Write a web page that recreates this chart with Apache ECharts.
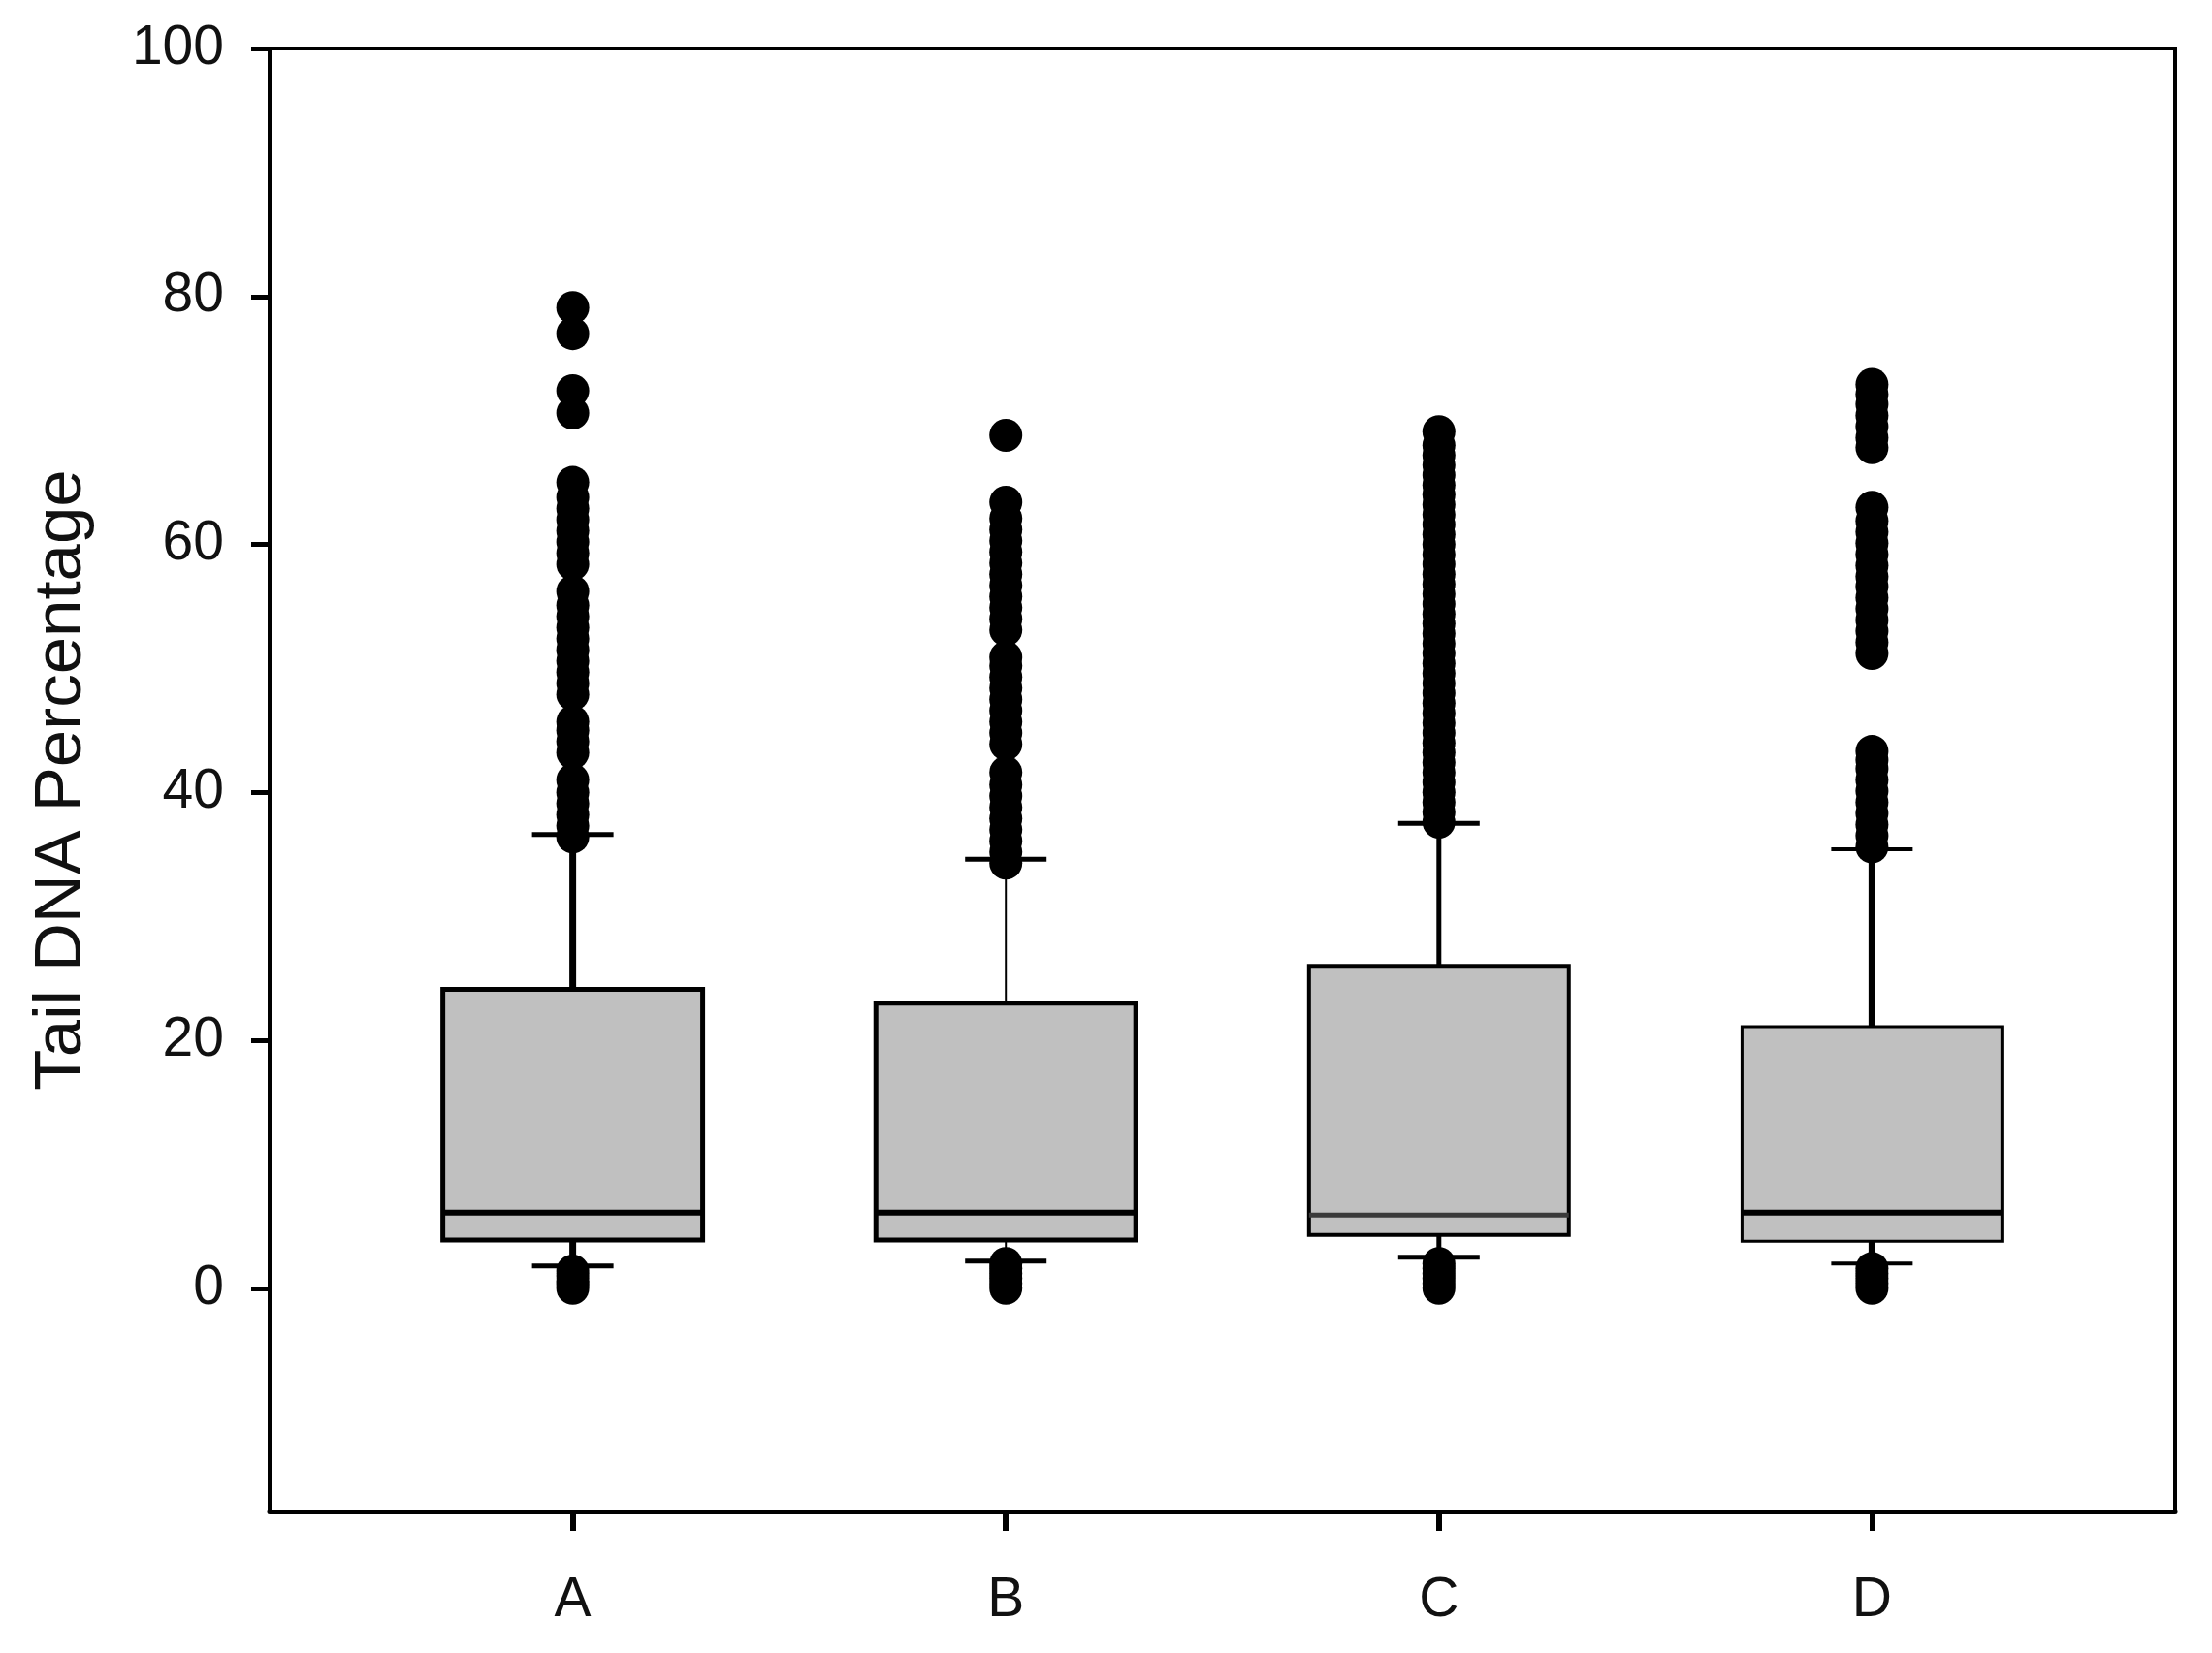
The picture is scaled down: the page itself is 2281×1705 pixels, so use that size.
<!DOCTYPE html>
<html>
<head>
<meta charset="utf-8">
<title>Tail DNA Percentage</title>
<script src="https://cdn.jsdelivr.net/npm/echarts@6/dist/echarts.min.js"></script>
<style>
  html, body { margin: 0; padding: 0; background: #fff; }
  #chart { width: 2281px; height: 1705px; }
</style>
</head>
<body>
<div id="chart"></div>
<script>
// groups on the x axis (placed at 1..4)
const categories = ["A", "B", "C", "D"];

// box plot statistics
const q1Values = [3.9, 3.9, 4.3, 3.8];
const medianValues = [6.1, 6.1, 5.9, 6.1];
const q3Values = [24.1, 23.0, 26.0, 21.1];
const whiskerLow = [1.8, 2.2, 2.5, 2.0];
const whiskerHigh = [36.6, 34.6, 37.5, 35.4];

// outliers above the upper whisker
const outliersHighA = [
  36.4, 37.3, 38.2, 39.1, 40.0, 41.0, 43.2, 44.1, 45.0, 45.7, 47.9, 48.8,
  49.7, 50.6, 51.5, 52.4, 53.3, 54.2, 55.1, 56.2, 58.4, 59.3, 60.2, 61.1,
  62.0, 62.9, 63.8, 65.0, 70.6, 72.4, 77.0, 79.1
];
const outliersHighB = [
  34.3, 35.2, 36.1, 37.0, 37.9, 38.8, 39.7, 40.6, 41.6, 43.9, 44.8, 45.7,
  46.6, 47.5, 48.4, 49.3, 50.2, 50.9, 53.1, 54.0, 54.9, 55.8, 56.7, 57.6,
  58.5, 59.4, 60.3, 61.2, 62.1, 63.4, 68.8
];
const outliersHighC = [
  37.6, 38.4, 39.2, 40.0, 40.8, 41.6, 42.4, 43.2, 44.0, 44.8, 45.6, 46.4,
  47.2, 48.0, 48.8, 49.6, 50.4, 51.2, 52.0, 52.8, 53.6, 54.4, 55.2, 56.0,
  56.8, 57.6, 58.4, 59.2, 60.0, 60.8, 61.6, 62.4, 63.2, 64.0, 64.8, 65.6,
  66.4, 67.2, 68.0, 69.1
];
const outliersHighD = [
  35.6, 36.5, 37.4, 38.3, 39.2, 40.1, 41.0, 41.9, 42.6, 43.3,
  51.2, 52.1, 53.0, 53.9, 54.8, 55.7, 56.6, 57.4, 58.3, 59.2, 60.1, 61.0,
  61.9, 63.0,
  67.8, 68.6, 69.5, 70.4, 71.3, 72.1, 72.9
];

// outliers below the lower whisker
const outliersLowA = [0.0, 0.3, 0.6, 1.0, 1.4];
const outliersLowB = [0.0, 0.4, 0.8, 1.2, 1.6, 2.0];
const outliersLowC = [0.0, 0.4, 0.8, 1.2, 1.6, 2.0];
const outliersLowD = [0.0, 0.4, 0.8, 1.2, 1.6];

// y ticks
const yTicks = [0, 20, 40, 60, 80, 100];

// per-box line widths (the original uses slightly different pens per box)
const boxStyles = [
  { border: 5, whisker: 7, cap: 5, median: 6, medianColor: "#000" },
  { border: 5, whisker: 2, cap: 5, median: 6, medianColor: "#000" },
  { border: 4, whisker: 5, cap: 5, median: 5, medianColor: "#3a3a3a" },
  { border: 3, whisker: 7, cap: 4, median: 6, medianColor: "#000" },
];
const BOX_HALF = 0.3; // box half width in x units
const CAP_HALF = 42; // whisker cap half width, px

const boxData = categories.map((c, i) => [
  i + 1,
  q1Values[i],
  medianValues[i],
  q3Values[i],
  whiskerLow[i],
  whiskerHigh[i],
]);

const highSets = [outliersHighA, outliersHighB, outliersHighC, outliersHighD];
const lowSets = [outliersLowA, outliersLowB, outliersLowC, outliersLowD];
const outlierData = [];
highSets.forEach((arr, i) => arr.forEach((v) => outlierData.push([i + 1, v])));
lowSets.forEach((arr, i) => arr.forEach((v) => outlierData.push([i + 1, v])));

const labelFont = { color: "#111", fontFamily: "Liberation Sans, Arial, sans-serif", fontSize: 57 };

function renderBox(params, api) {
  const st = boxStyles[params.dataIndex];
  const x = api.value(0);
  const top = api.coord([x - BOX_HALF, api.value(3)]);
  const bot = api.coord([x + BOX_HALF, api.value(1)]);
  const mid = api.coord([x, api.value(2)]);
  const lo = api.coord([x, api.value(4)]);
  const hi = api.coord([x, api.value(5)]);
  const line = (x1, y1, x2, y2, w, color) => ({
    type: "line",
    shape: { x1, y1, x2, y2 },
    style: { stroke: color || "#000", lineWidth: w },
  });
  return {
    type: "group",
    children: [
      line(hi[0], hi[1], hi[0], top[1], st.whisker),
      line(lo[0], bot[1], lo[0], lo[1], st.whisker),
      line(hi[0] - CAP_HALF, hi[1], hi[0] + CAP_HALF, hi[1], st.cap),
      line(lo[0] - CAP_HALF, lo[1], lo[0] + CAP_HALF, lo[1], st.cap),
      {
        type: "rect",
        shape: { x: top[0], y: top[1], width: bot[0] - top[0], height: bot[1] - top[1] },
        style: { fill: "#c0c0c0", stroke: "#000", lineWidth: st.border },
      },
      line(top[0], mid[1], bot[0], mid[1], st.median, st.medianColor),
    ],
  };
}

const chart = echarts.init(document.getElementById("chart"));
chart.setOption({
  backgroundColor: "#fff",
  animation: false,
  grid: {
    left: 278,
    right: 38,
    top: 50,
    bottom: 146,
    show: true,
    borderColor: "#000",
    borderWidth: 4,
    outerBoundsMode: "none",
  },
  xAxis: {
    type: "value",
    min: 0.3,
    max: 4.7,
    splitLine: { show: false },
    axisLine: { onZero: false, lineStyle: { color: "#000", width: 5 } },
    axisTick: { customValues: [1, 2, 3, 4], length: 20, lineStyle: { color: "#000", width: 6 } },
    axisLabel: {
      ...labelFont,
      customValues: [1, 2, 3, 4],
      margin: 64,
      formatter: (v) => categories[Math.round(v) - 1] || "",
    },
  },
  yAxis: {
    type: "value",
    min: -18,
    max: 100,
    splitLine: { show: false },
    axisLine: { show: true, onZero: false, lineStyle: { color: "#000", width: 4 } },
    axisTick: { show: true, customValues: yTicks, length: 19, lineStyle: { color: "#000", width: 5 } },
    axisLabel: { ...labelFont, customValues: yTicks, margin: 47 },
    name: "Tail DNA Percentage",
    nameLocation: "middle",
    nameRotate: 90,
    nameGap: 180,
    nameTextStyle: { color: "#111", fontFamily: "Liberation Sans, Arial, sans-serif", fontSize: 69 },
  },
  series: [
    {
      type: "custom",
      renderItem: renderBox,
      data: boxData,
      encode: { x: 0, y: [1, 2, 3, 4, 5] },
      z: 2,
    },
    {
      type: "scatter",
      data: outlierData,
      symbol: "circle",
      symbolSize: 34,
      itemStyle: { color: "#000", opacity: 1 },
      z: 3,
    },
  ],
});
</script>
</body>
</html>
